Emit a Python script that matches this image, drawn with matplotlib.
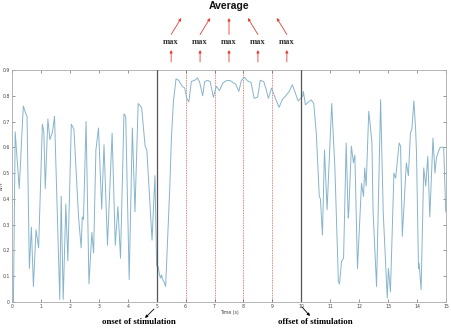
import numpy as np
import matplotlib
matplotlib.use("Agg")
import matplotlib.pyplot as plt

# dF/F trace, split in three parts
t_pre = [0.05, 0.11, 0.25, 0.39, 0.48, 0.52, 0.60, 0.67, 0.74, 0.83, 0.92,
         1.05, 1.10, 1.15, 1.24, 1.31, 1.40, 1.47, 1.65, 1.70, 1.77, 1.86, 1.93,
         2.05, 2.14, 2.30, 2.39, 2.43, 2.47, 2.56, 2.66, 2.76, 2.82, 2.90, 2.99,
         3.10, 3.18, 3.30, 3.46, 3.57, 3.66, 3.75, 3.87, 3.93,
         4.05, 4.16, 4.25, 4.36, 4.48, 4.60, 4.66, 4.84, 4.94]
f_pre = [0.00, 0.66, 0.44, 0.76, 0.73, 0.72, 0.13, 0.29, 0.06, 0.28, 0.21,
         0.69, 0.66, 0.44, 0.71, 0.63, 0.66, 0.72, 0.01, 0.41, 0.01, 0.38, 0.16,
         0.69, 0.67, 0.33, 0.21, 0.33, 0.32, 0.70, 0.07, 0.27, 0.19, 0.59, 0.675,
         0.36, 0.61, 0.22, 0.655, 0.22, 0.37, 0.17, 0.73, 0.72,
         0.087, 0.675, 0.35, 0.77, 0.755, 0.605, 0.59, 0.24, 0.49]

t_stim = [5.00, 5.05, 5.09, 5.13, 5.17, 5.20, 5.27, 5.31, 5.45, 5.51, 5.58, 5.67,
          5.76, 5.88, 5.97, 6.04, 6.11, 6.20, 6.32, 6.41, 6.48, 6.59, 6.66, 6.76,
          6.85, 6.96, 7.06, 7.17, 7.29, 7.40, 7.52, 7.63, 7.73, 7.84, 7.93, 8.03,
          8.14, 8.26, 8.37, 8.49, 8.58, 8.70, 8.77, 8.86, 8.97, 9.07, 9.23, 9.34,
          9.46, 9.57, 9.69, 9.78, 9.89, 9.98]
f_stim = [0.14, 0.137, 0.11, 0.093, 0.105, 0.09, 0.074, 0.06, 0.435, 0.636, 0.78, 0.866,
          0.86, 0.837, 0.83, 0.79, 0.776, 0.856, 0.86, 0.869, 0.855, 0.80, 0.855, 0.86,
          0.855, 0.794, 0.837, 0.82, 0.85, 0.858, 0.86, 0.852, 0.845, 0.817, 0.86, 0.872,
          0.858, 0.852, 0.79, 0.795, 0.86, 0.855, 0.83, 0.79, 0.83, 0.80, 0.755, 0.785,
          0.80, 0.815, 0.843, 0.815, 0.78, 0.79]

t_post = [10.05, 10.07, 10.14, 10.25, 10.34, 10.43, 10.52, 10.62, 10.66, 10.73, 10.80,
          10.89, 11.05, 11.16, 11.28, 11.32, 11.39, 11.46, 11.55, 11.62, 11.64, 11.73,
          11.80, 11.85, 11.94, 12.08, 12.15, 12.19, 12.24, 12.33, 12.37, 12.44, 12.48,
          12.60, 12.74, 12.83, 12.85, 12.97, 13.01, 13.08, 13.20, 13.26, 13.38, 13.43,
          13.49, 13.63, 13.70, 13.77, 13.82, 13.89, 13.95, 13.98, 14.05, 14.07, 14.14,
          14.23, 14.30, 14.37, 14.44, 14.55, 14.62, 14.67, 14.76, 14.80, 14.92, 14.99]
f_post = [0.80, 0.817, 0.765, 0.776, 0.784, 0.77, 0.65, 0.41, 0.40, 0.26, 0.59,
          0.358, 0.77, 0.52, 0.08, 0.07, 0.158, 0.17, 0.617, 0.326, 0.35, 0.605,
          0.54, 0.57, 0.13, 0.46, 0.41, 0.52, 0.45, 0.74, 0.70, 0.617, 0.35,
          0.06, 0.785, 0.35, 0.30, 0.015, 0.13, 0.04, 0.50, 0.48, 0.617, 0.605,
          0.255, 0.54, 0.49, 0.655, 0.67, 0.78, 0.67, 0.58, 0.13, 0.15, 0.048,
          0.52, 0.45, 0.565, 0.33, 0.636, 0.50, 0.56, 0.59, 0.60, 0.60, 0.35]

t_onset = 5
t_offset = 10
bins = [6, 7, 8, 9]          # red dotted bin edges
bin_centers = [5.5, 6.5, 7.5, 8.5, 9.5]

t = np.array(t_pre + t_stim + t_post)
dff = np.array(f_pre + f_stim + f_post)

W, H = 451, 328
fig = plt.figure(figsize=(W / 100, H / 100), dpi=100)
ax = fig.add_axes([12 / W, 1 - 302 / H, 434 / W, 232 / H])

ax.plot(t, dff, color="#86b4cc", lw=0.7, zorder=2)
ax.axvline(t_onset, color="#555555", lw=0.9, zorder=3)
ax.axvline(t_offset, color="#555555", lw=0.9, zorder=3)
for b in bins:
    ax.axvline(b, color="#e05a55", lw=0.6, ls=(0, (1, 1)), zorder=1)

ax.set_xlim(0, 15)
ax.set_ylim(0, 0.9)
ax.set_xticks(range(0, 16))
ax.set_yticks(np.arange(0, 0.91, 0.1))
ax.set_yticklabels(["0"] + ["%.1f" % v for v in np.arange(0.1, 0.91, 0.1)])
ax.tick_params(direction="in", length=2, width=0.4, labelsize=3.3,
               colors="#444444", pad=1.5, top=True, right=True)
for s in ax.spines.values():
    s.set_color("#aaaaaa")
    s.set_linewidth(0.6)
ax.set_xlabel("Time (s)", fontsize=3.3, color="#444444", labelpad=1)
ax.set_ylabel("ΔF/F", fontsize=3, color="#444444")
ax.yaxis.set_label_coords(-0.0185, 0.5)

# annotations above the axes
red = "#e0403a"
fp = ("data", "figure pixels")
for c in bin_centers:
    ax.annotate("", xy=(c, H - 50), xycoords=fp, xytext=(c, H - 62), textcoords=fp,
                arrowprops=dict(arrowstyle="-|>", color=red, lw=0.6,
                                mutation_scale=4, shrinkA=0, shrinkB=0))
    ax.annotate("max", xy=(c, H - 42), xycoords=fp, ha="center", va="center",
                fontsize=6.2, fontweight="bold", family="Liberation Serif",
                color="#333333")
    end = c + 0.35 * np.sign(7.5 - c)
    ax.annotate("", xy=(end, H - 18), xycoords=fp, xytext=(c, H - 34.5), textcoords=fp,
                arrowprops=dict(arrowstyle="-|>", color=red, lw=0.6,
                                mutation_scale=4, shrinkA=0, shrinkB=0))
ax.annotate("Average", xy=(7.5, H - 6), xycoords=fp, ha="center", va="center",
            fontsize=7.5, fontweight="bold", family="Liberation Sans", color="#111111")

# labels below the axes
ax.annotate("onset of stimulation", xy=(139, 6), xycoords="figure pixels",
            ha="center", va="center", fontsize=6.3, fontweight="bold",
            family="Liberation Serif", color="black")
ax.annotate("offset of stimulation", xy=(315, 6), xycoords="figure pixels",
            ha="center", va="center", fontsize=6.3, fontweight="bold",
            family="Liberation Serif", color="black")
ax.annotate("", xy=(145, H - 318), xycoords="figure pixels",
            xytext=(154, H - 309), textcoords="figure pixels",
            arrowprops=dict(arrowstyle="-|>", color="black", lw=0.6,
                            mutation_scale=4, shrinkA=0, shrinkB=0))
ax.annotate("", xy=(310, H - 316), xycoords="figure pixels",
            xytext=(302, H - 307), textcoords="figure pixels",
            arrowprops=dict(arrowstyle="-|>", color="black", lw=0.6,
                            mutation_scale=4, shrinkA=0, shrinkB=0))

fig.savefig("out.png", dpi=100)
